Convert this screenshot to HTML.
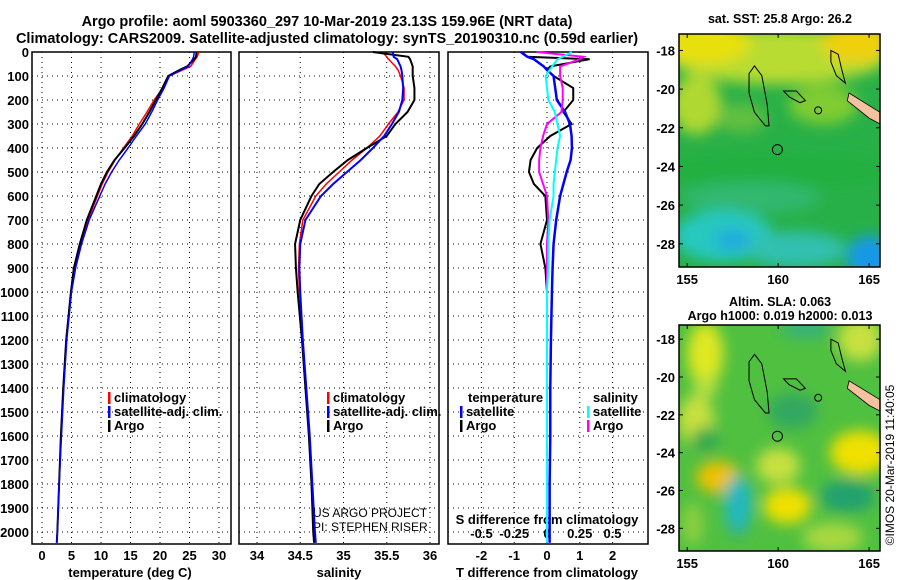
<!DOCTYPE html>
<html><head><meta charset="utf-8"><style>
body{margin:0;background:#fff;}
svg{display:block;font-family:"Liberation Sans",sans-serif;font-weight:bold;}
</style></head><body>
<svg id="chart" width="900" height="580" viewBox="0 0 900 580" xmlns="http://www.w3.org/2000/svg">
<defs>
<filter id="blur1" filterUnits="userSpaceOnUse" x="600" y="0" width="300" height="580"><feGaussianBlur stdDeviation="7"/></filter>
<clipPath id="clipA"><rect x="679" y="34" width="201" height="233"/></clipPath>
<clipPath id="clipB"><rect x="679" y="325" width="201" height="226"/></clipPath>
</defs>
<text x="327" y="26" font-size="14.5" text-anchor="middle">Argo profile: aoml 5903360_297 10-Mar-2019 23.13S 159.96E (NRT data)</text>
<text x="327" y="43" font-size="14.5" text-anchor="middle">Climatology: CARS2009. Satellite-adjusted climatology: synTS_20190310.nc (0.59d earlier)</text>
<g id="plots"></g>
<g id="maps"></g>
<text transform="translate(894,465) rotate(-90)" font-size="12" font-weight="normal" text-anchor="middle">©IMOS 20-Mar-2019 11:40:05</text>
</svg>
<script>
// ---- data ----
const depthTicks = [0,100,200,300,400,500,600,700,800,900,1000,1100,1200,1300,1400,1500,1600,1700,1800,1900,2000];
const tempTicks = [0,5,10,15,20,25,30];
const salTicks = [34,34.5,35,35.5,36];
const tdiffTicks = [-2,-1,0,1,2];
const sdiffTicks = [-0.5,-0.25,0,0.25,0.5];
const depths = [0,20,30,60,75,100,150,200,250,300,350,400,450,500,550,600,700,800,900,1000,1200,1400,1600,1800,2000,2045];
const tempArgo = [26.2,26.1,25.8,24.6,23.3,21.4,20.4,19.3,18.2,17.0,15.6,14.0,12.3,11.0,10.0,9.2,7.6,6.4,5.4,4.9,4.1,3.6,3.2,2.9,2.6,2.5];
const tempClim = [26.6,26.3,26.0,25.2,23.8,21.6,20.5,19.0,17.8,16.5,15.3,13.8,12.4,11.2,10.2,9.4,7.8,6.5,5.5,4.9,4.1,3.6,3.2,2.9,2.6,2.5];
const tempSat = [25.8,25.7,25.5,24.8,23.6,21.6,20.7,19.6,18.6,17.5,16.0,14.6,13.1,11.8,10.7,9.8,8.0,6.7,5.7,5.0,4.2,3.7,3.3,2.9,2.6,2.5];
const salArgo = [35.34,35.75,35.77,35.8,35.8,35.8,35.82,35.82,35.74,35.6,35.5,35.27,35.05,34.88,34.72,34.63,34.5,34.44,34.45,34.47,34.52,34.56,34.6,34.63,34.65,34.66];
const salClim = [35.45,35.5,35.52,35.6,35.63,35.66,35.7,35.7,35.63,35.52,35.42,35.27,35.1,34.95,34.8,34.68,34.53,34.49,34.48,34.49,34.53,34.57,34.6,34.63,34.66,34.67];
const salSat = [35.57,35.58,35.62,35.66,35.67,35.68,35.69,35.68,35.64,35.56,35.47,35.34,35.2,35.04,34.88,34.74,34.56,34.5,34.49,34.5,34.53,34.57,34.61,34.64,34.67,34.68];
const tdiffArgo = [-0.77,-0.6,1.3,0.1,0.0,0.2,0.8,0.8,0.5,0.75,0.1,-0.3,-0.5,-0.55,-0.4,-0.05,0.0,-0.2,-0.05,0.0,0.0,0.0,0.0,0.0,0.0,0.0];
const tdiffSat = [-0.8,-0.6,-0.4,-0.1,0.0,0.2,0.25,0.3,0.55,0.7,0.75,0.76,0.72,0.6,0.5,0.4,0.28,0.2,0.17,0.15,0.12,0.1,0.1,0.08,0.08,0.08];
const sdiffArgo = [-0.08,0.28,0.25,0.1,0.1,0.1,0.12,0.12,0.11,0.0,-0.03,-0.05,-0.06,-0.06,-0.03,0.0,0.01,0.0,0.0,0.0,0.0,0.0,0.0,0.0,0.0,0.0];
const sdiffSat = [0.19,0.12,0.08,0.04,0.02,-0.01,0.0,0.01,0.06,0.08,0.1,0.08,0.07,0.06,0.05,0.05,0.02,0.01,0.01,0.0,0.0,0.0,0.0,0.0,0.0,0.0];

const NS='http://www.w3.org/2000/svg';
const plots=document.getElementById('plots');
function mk(tag,attrs,parent){const e=document.createElementNS(NS,tag);for(const k in attrs)e.setAttribute(k,attrs[k]);(parent||plots).appendChild(e);return e;}
const TOP=52,BOT=544;
const yD=d=>TOP+d*0.24;
const xT=v=>42+v*5.9;
const xS=v=>257+(v-34)*86.5;
const xTd=v=>547+v*32.8;
const xSd=v=>547+v*131;
const panels=[[32,231],[239,439],[448,648]];

function line(xs,vals,fx,color,w,name){
  const p=mk('polyline',{points:vals.map((v,i)=>fx(v)+','+yD(xs[i])).join(' '),fill:'none',stroke:color,'stroke-width':w});
  
  
}
panels.forEach((p,i)=>{
  const g=mk('g',{});
  
  
  depthTicks.forEach(d=>{
    const gl=mk('line',{x1:p[0],x2:p[1],y1:yD(d),y2:yD(d),stroke:'#000','stroke-width':1,'stroke-dasharray':'1,4'},g);
    
    
  });
  const vt=i==0?tempTicks.map(xT):i==1?salTicks.map(xS):tdiffTicks.map(xTd);
  vt.forEach(x=>{
    const gl=mk('line',{x1:x,x2:x,y1:TOP,y2:BOT,stroke:'#000','stroke-width':1,'stroke-dasharray':'1,4'},g);
    
    
  });
  const r=mk('rect',{x:p[0],y:TOP,width:p[1]-p[0],height:BOT-TOP,fill:'none',stroke:'#000','stroke-width':1.5},g);
  
  
});
depthTicks.forEach(d=>{
  const t=mk('text',{x:29,y:yD(d)+5,'font-size':13,'text-anchor':'end'});
  t.textContent=d;
  
  
});
function xlabels(ticks,fx,y,fmt){ticks.forEach(v=>{const t=mk('text',{x:fx(v),y:y,'font-size':13,'text-anchor':'middle'});t.textContent=fmt?fmt(v):v;});}
xlabels(tempTicks,xT,560);
xlabels(salTicks,xS,560);
xlabels(tdiffTicks,xTd,560);
xlabels(sdiffTicks,xSd,538);
function txt(x,y,s,name,size,anchor,weight){const t=mk('text',{x:x,y:y,'font-size':size||13,'text-anchor':anchor||'start'});if(weight)t.setAttribute('font-weight',weight);t.textContent=s;return t;}
txt(130,577,'temperature (deg C)','x-axis-title-temperature',13,'middle');
txt(339,577,'salinity','x-axis-title-salinity',13,'middle');
txt(547,577,'T difference from climatology','x-axis-title-tdiff',13,'middle');
txt(547,524,'S difference from climatology','s-diff-axis-title',13,'middle');
txt(313,517,'US ARGO PROJECT','project-credit',12,'start','normal');
txt(313,531,'PI: STEPHEN RISER','pi-credit',12,'start','normal');

line(depths,tempClim,xT,'#f00',1.5,'temp-climatology-line');
line(depths,tempArgo,xT,'#000',2,'temp-argo-line');
line(depths,tempSat,xT,'#00f',1.5,'temp-satellite-line');
line(depths,salClim,xS,'#f00',1.5,'sal-climatology-line');
line(depths,salArgo,xS,'#000',2,'sal-argo-line');
line(depths,salSat,xS,'#00f',2,'sal-satellite-line');
line(depths,tdiffArgo,xTd,'#000',2,'tdiff-argo-line');
line(depths,tdiffSat,xTd,'#00f',2.5,'tdiff-satellite-line');
line(depths,sdiffArgo,xSd,'#f0f',2,'sdiff-argo-line');
line(depths,sdiffSat,xSd,'#0ff',2,'sdiff-satellite-line');

function leg(x,y,color,label,name){
  const g=mk('g',{});
  
  
  mk('rect',{x:x,y:y-10,width:2.5,height:12,fill:color},g);
  const t=mk('text',{x:x+6,y:y,'font-size':13},g);t.textContent=label;
}
leg(108,402,'#f00','climatology','legend-entry-climatology');
leg(108,416,'#00f','satellite-adj. clim.','legend-entry-satellite');
leg(108,430,'#000','Argo','legend-entry-argo');
leg(327,402,'#f00','climatology','legend-entry-climatology-sal');
leg(327,416,'#00f','satellite-adj. clim.','legend-entry-satellite-sal');
leg(327,430,'#000','Argo','legend-entry-argo-sal');
txt(468,402,'temperature','legend-header-temperature');
leg(460,416,'#00f','satellite','legend-entry-tdiff-satellite');
leg(460,430,'#000','Argo','legend-entry-tdiff-argo');
txt(593,402,'salinity','legend-header-salinity');
leg(587,416,'#0ff','satellite','legend-entry-sdiff-satellite');
leg(587,430,'#f0f','Argo','legend-entry-sdiff-argo');

// ---- maps ----
const maps=document.getElementById('maps');
const lonTicks=[155,160,165];
const latTicks=[-18,-20,-22,-24,-26,-28];
function mapPanel(top,bot,latTop,latBot,title1,title2,name,clip,blobs,base){
  const g=mk('g',{},maps);
  
  
  const L=679,R=880,lonL=154.55,lonR=165.6;
  const fx=v=>L+(v-lonL)/(lonR-lonL)*(R-L);
  const fy=v=>top+(latTop-v)/(latTop-latBot)*(bot-top);
  const inner=mk('g',{'clip-path':'url(#'+clip+')'},g);
  mk('rect',{x:L,y:top,width:R-L,height:bot-top,fill:base},inner);
  const bg=mk('g',{filter:'url(#blur1)'},inner);
  blobs.forEach(b=>mk('ellipse',{cx:fx(b[0]),cy:fy(b[1]),rx:b[2],ry:b[3],fill:b[4]},bg));
  const c=mk('g',{fill:'none',stroke:'#000','stroke-width':1},inner);
  mk('path',{d:`M${fx(158.7)},${fy(-18.8)} L${fx(159.1)},${fy(-19.3)} L${fx(159.4)},${fy(-20.8)} L${fx(159.5)},${fy(-21.9)} L${fx(159.3)},${fy(-21.9)} L${fx(158.7)},${fy(-21.2)} L${fx(158.4)},${fy(-20.2)} L${fx(158.4)},${fy(-19.2)} Z`},c);
  mk('path',{d:`M${fx(160.3)},${fy(-20.1)} L${fx(161)},${fy(-20.1)} L${fx(161.5)},${fy(-20.6)} L${fx(161.2)},${fy(-20.7)} L${fx(160.6)},${fy(-20.4)} Z`},c);
  mk('path',{d:`M${fx(162.9)},${fy(-18)} L${fx(163.3)},${fy(-18.2)} L${fx(163.5)},${fy(-19)} L${fx(163.7)},${fy(-19.7)} L${fx(163.2)},${fy(-19.3)} L${fx(162.9)},${fy(-18.6)} Z`},c);
  mk('circle',{cx:fx(159.96),cy:fy(-23.13),r:5},c);
  mk('circle',{cx:fx(162.2),cy:fy(-21.1),r:3.5},c);
  const land=mk('path',{d:`M${fx(163.9)},${fy(-20.2)} L${fx(165.6)},${fy(-21.2)} L${fx(165.6)},${fy(-21.8)} L${fx(165)},${fy(-21.5)} L${fx(163.8)},${fy(-20.6)} Z`,fill:'#f5c2a0',stroke:'#000','stroke-width':0.8},inner);
  
  
  mk('rect',{x:L,y:top,width:R-L,height:bot-top,fill:'none',stroke:'#000','stroke-width':1.5},g);
  lonTicks.forEach(v=>{
    mk('line',{x1:fx(v),x2:fx(v),y1:top,y2:top+4,stroke:'#000'},g);
    mk('line',{x1:fx(v),x2:fx(v),y1:bot,y2:bot-4,stroke:'#000'},g);
    const t=mk('text',{x:fx(v),y:bot+17,'font-size':13,'text-anchor':'middle'},g);t.textContent=v;
  });
  latTicks.forEach(v=>{
    mk('line',{x1:L,x2:L+4,y1:fy(v),y2:fy(v),stroke:'#000'},g);
    mk('line',{x1:R,x2:R-4,y1:fy(v),y2:fy(v),stroke:'#000'},g);
    const t=mk('text',{x:L-4,y:fy(v)+5,'font-size':13,'text-anchor':'end'},g);t.textContent=v;
  });
  const t1=mk('text',{x:780,y:title2?top-19:top-11,'font-size':12.5,'text-anchor':'middle'},g);t1.textContent=title1;
  if(title2){const t2=mk('text',{x:780,y:top-5,'font-size':12.5,'text-anchor':'middle'},g);t2.textContent=title2;}
}
mapPanel(34,267,-17.15,-29.2,'sat. SST: 25.8 Argo: 26.2',null,'sst-map','clipA',[
 [160,-18.3,110,28,'#b8dc30'],[156,-17.6,45,22,'#e8e010'],[164.3,-17.6,35,20,'#f0d010'],
 [155.5,-20.8,25,30,'#b0d830'],[162.5,-20.8,35,20,'#80cc30'],[158,-21.5,25,15,'#60c040'],
 [160,-24.2,120,18,'#20b040'],[158.5,-25.6,70,16,'#30b870'],
 [157,-27.6,50,26,'#28c8c0'],[161,-28.3,50,18,'#30c0b0'],[165,-28.7,22,22,'#1898e8'],[157.5,-27.8,18,10,'#20a8e0']
],'#28b048');
mapPanel(325,551,-17.25,-29.2,'Altim. SLA: 0.063','Argo h1000: 0.019 h2000: 0.013','sla-map','clipB',[
 [156,-18.8,18,32,'#e0e820'],[164.5,-18,22,22,'#c8e040'],[161.5,-17.5,25,8,'#30b080'],
 [155.5,-22.3,18,25,'#c8e040'],[156,-20.5,12,12,'#b8e040'],[160.8,-21.8,25,18,'#30a860'],[156,-23.3,14,12,'#30a850'],
 [164.5,-24,30,22,'#f0e000'],[156.7,-25.3,22,16,'#f0c000'],[160,-24.7,22,18,'#c8e040'],
 [160.5,-26.8,24,18,'#f0e000'],[163.8,-26.3,28,16,'#20a070'],
 [157.8,-27.2,10,22,'#2088e0'],[157.8,-26.7,14,28,'#20b8c0'],[163,-28.5,30,15,'#a8d840'],[155.3,-27.8,10,22,'#90d040']
],'#50c040');
</script>
</body></html>
